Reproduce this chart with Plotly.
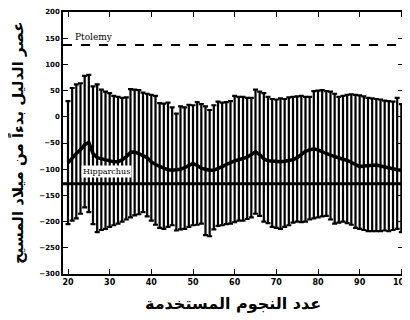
import plotly.graph_objects as go

# number of stars used
stars = list(range(20, 101))

# estimated epoch (years AD), mean with spread
upper = [30, 55, 62, 64, 78, 80, 58, 62, 52, 48,
         45, 40, 38, 36, 37, 53, 52, 51, 46, 44,
         42, 40, 26, 25, 27, 18, 6, 20, 18, 23,
         22, 28, 24, 20, 13, 22, 29, 27, 28, 30,
         40, 38, 38, 36, 36, 52, 48, 45, 38, 34,
         33, 35, 34, 37, 38, 39, 40, 38, 38, 49,
         50, 51, 49, 48, 44, 38, 40, 42, 43, 42,
         41, 39, 36, 35, 34, 33, 31, 30, 29, 36, 24]
lower = [-205, -198, -194, -185, -173, -182, -205, -220, -216, -214,
         -210, -207, -204, -200, -196, -192, -188, -186, -182, -190,
         -198, -206, -212, -214, -210, -207, -217, -215, -214, -210,
         -207, -206, -204, -226, -228, -215, -208, -207, -205, -204,
         -201, -198, -198, -195, -192, -185, -189, -200, -203, -210,
         -212, -214, -210, -207, -202, -200, -201, -200, -196, -194,
         -192, -190, -189, -196, -204, -202, -200, -203, -206, -212,
         -214, -216, -218, -218, -218, -218, -217, -218, -216, -214, -220]
mean = [-88, -78, -70, -63, -53, -49, -70, -78, -80, -82,
        -84, -86, -86, -82, -76, -68, -67, -70, -74, -78,
        -86, -91, -95, -98, -101, -102, -101, -100, -97, -93,
        -89, -93, -98, -100, -102, -102, -99, -95, -91, -87,
        -84, -82, -79, -77, -72, -67, -72, -80, -84, -85,
        -85, -86, -85, -84, -82, -78, -72, -66, -63, -61,
        -63, -67, -70, -73, -76, -79, -81, -83, -87, -91,
        -95, -94, -93, -92, -92, -94, -96, -98, -100, -101, -102]

# reference epochs
PTOLEMY = 137
HIPPARCHUS = -128

y_ticks = [200, 150, 100, 50, 0, -50, -100, -150, -200, -250, -300]
x_ticks = [20, 30, 40, 50, 60, 70, 80, 90, 100]

err_plus = [u - m for u, m in zip(upper, mean)]
err_minus = [m - l for m, l in zip(mean, lower)]

fig = go.Figure()

fig.add_trace(go.Scatter(
    x=stars, y=mean,
    mode='lines',
    line=dict(color='black', width=3.5),
    error_y=dict(type='data', array=err_plus, arrayminus=err_minus,
                 color='black', thickness=2.2, width=2.5),
    showlegend=False,
    hoverinfo='skip'
))

fig.add_hline(y=PTOLEMY, line=dict(color='black', width=2, dash='dash'))
fig.add_hline(y=HIPPARCHUS, line=dict(color='black', width=3))

fig.add_annotation(x=21.2, y=PTOLEMY, text='Ptolemy', showarrow=False,
                   xanchor='left', yanchor='bottom', yshift=1,
                   font=dict(family='DejaVu Serif', size=9, color='black'))
fig.add_annotation(x=23.2, y=HIPPARCHUS, text='Hipparchus', showarrow=False,
                   xanchor='left', yanchor='bottom', yshift=6,
                   bgcolor='white', borderpad=1,
                   font=dict(family='DejaVu Serif', size=8, color='black'))

# axis titles (Arabic)
fig.add_annotation(xref='paper', yref='paper', x=0, y=0.5, xshift=-46,
                   text='عصر الدليل بدءاً من ميلاد المسيح', textangle=-90,
                   showarrow=False, xanchor='center', yanchor='middle',
                   font=dict(family='DejaVu Sans', size=15, color='black', weight='bold'))
fig.add_annotation(xref='paper', yref='paper', x=0.5, y=0, yshift=-18,
                   text='عدد النجوم المستخدمة', showarrow=False,
                   xanchor='center', yanchor='top',
                   font=dict(family='DejaVu Sans', size=16, color='black', weight='bold'))

# page body adds an 8px offset, so the figure is sized 8px smaller
fig.update_layout(
    width=402,
    height=312,
    margin=dict(l=55, r=6, t=0, b=46),
    paper_bgcolor='white',
    plot_bgcolor='white',
    xaxis=dict(
        range=[18.8, 100.4],
        tickvals=x_ticks,
        ticks='inside', ticklen=5, tickcolor='black',
        ticklabeloverflow='allow',
        showline=True, linecolor='black', linewidth=1.5, mirror='ticks',
        showgrid=False, zeroline=False,
        tickfont=dict(family='DejaVu Sans', size=8, color='black', weight='bold')
    ),
    yaxis=dict(
        range=[-300, 200],
        tickvals=y_ticks,
        ticks='inside', ticklen=5, tickcolor='black',
        ticklabeloverflow='allow',
        showline=True, linecolor='black', linewidth=1.5, mirror='ticks',
        showgrid=False, zeroline=False,
        tickfont=dict(family='DejaVu Sans', size=7, color='black', weight='bold')
    )
)

fig.write_html("out.html")
